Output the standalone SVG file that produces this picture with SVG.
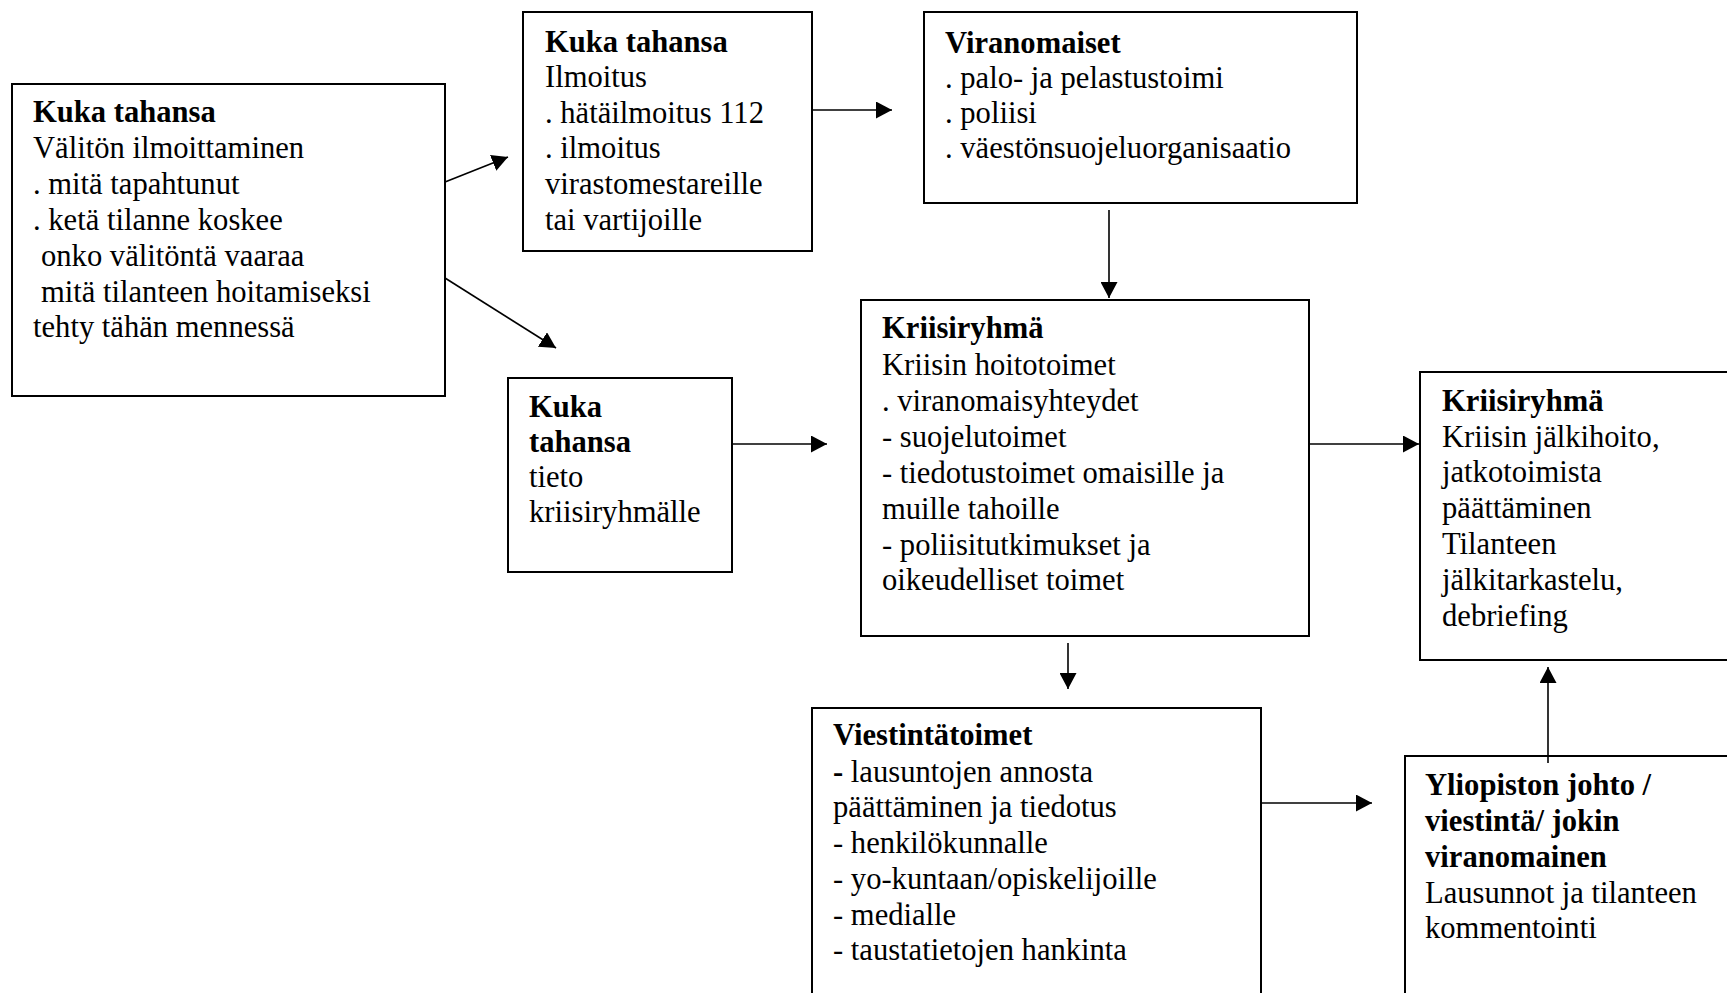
<svg xmlns="http://www.w3.org/2000/svg" width="1727" height="993" viewBox="0 0 1727 993">
  <style>
    .box { fill: #ffffff; stroke: #000000; stroke-width: 2; }
    .t { font-family: "Liberation Serif", "DejaVu Serif", serif; font-size: 30.6px; fill: #000000; }
    .b { font-weight: bold; }
    .conn { stroke: #000000; stroke-width: 1.6; fill: none; marker-end: url(#arrow); }
  </style>
  <defs>
    <marker id="arrow" markerUnits="userSpaceOnUse" markerWidth="17" markerHeight="17" refX="16" refY="8.5" orient="auto">
      <path d="M0,0 L16,8.5 L0,17 z" fill="#000000"/>
    </marker>
  </defs>
  <rect x="0" y="0" width="1727" height="993" fill="#ffffff"/>

  <g id="node-kuka1">
    <rect class="box" x="12" y="84" width="433" height="312"/>
    <text class="t b" x="33" y="122">Kuka tahansa</text>
    <text class="t" x="33" y="158">Välitön ilmoittaminen</text>
    <text class="t" x="33" y="194">. mitä tapahtunut</text>
    <text class="t" x="33" y="230">. ketä tilanne koskee</text>
    <text class="t" x="41" y="266">onko välitöntä vaaraa</text>
    <text class="t" x="41" y="302">mitä tilanteen hoitamiseksi</text>
    <text class="t" x="33" y="337">tehty tähän mennessä</text>
  </g>

  <g id="node-kuka2">
    <rect class="box" x="523" y="12" width="289" height="239"/>
    <text class="t b" x="545" y="52">Kuka tahansa</text>
    <text class="t" x="545" y="87">Ilmoitus</text>
    <text class="t" x="545" y="123">. hätäilmoitus 112</text>
    <text class="t" x="545" y="158">. ilmoitus</text>
    <text class="t" x="545" y="194">virastomestareille</text>
    <text class="t" x="545" y="230">tai vartijoille</text>
  </g>

  <g id="node-viranomaiset">
    <rect class="box" x="924" y="12" width="433" height="191"/>
    <text class="t b" x="945" y="53">Viranomaiset</text>
    <text class="t" x="945" y="88">. palo- ja pelastustoimi</text>
    <text class="t" x="945" y="123">. poliisi</text>
    <text class="t" x="945" y="158">. väestönsuojeluorganisaatio</text>
  </g>

  <g id="node-kuka3">
    <rect class="box" x="508" y="378" width="224" height="194"/>
    <text class="t b" x="529" y="417">Kuka</text>
    <text class="t b" x="529" y="452">tahansa</text>
    <text class="t" x="529" y="487">tieto</text>
    <text class="t" x="529" y="522">kriisiryhmälle</text>
  </g>

  <g id="node-kriisiryhma1">
    <rect class="box" x="861" y="300" width="448" height="336"/>
    <text class="t b" x="882" y="338">Kriisiryhmä</text>
    <text class="t" x="882" y="375">Kriisin hoitotoimet</text>
    <text class="t" x="882" y="411">. viranomaisyhteydet</text>
    <text class="t" x="882" y="447">- suojelutoimet</text>
    <text class="t" x="882" y="483">- tiedotustoimet omaisille ja</text>
    <text class="t" x="882" y="519">muille tahoille</text>
    <text class="t" x="882" y="555">- poliisitutkimukset ja</text>
    <text class="t" x="882" y="590">oikeudelliset toimet</text>
  </g>

  <g id="node-kriisiryhma2">
    <rect class="box" x="1420" y="372" width="330" height="288"/>
    <text class="t b" x="1442" y="411">Kriisiryhmä</text>
    <text class="t" x="1442" y="447">Kriisin jälkihoito,</text>
    <text class="t" x="1442" y="482">jatkotoimista</text>
    <text class="t" x="1442" y="518">päättäminen</text>
    <text class="t" x="1442" y="554">Tilanteen</text>
    <text class="t" x="1442" y="590">jälkitarkastelu,</text>
    <text class="t" x="1442" y="626">debriefing</text>
  </g>

  <g id="node-viestinta">
    <rect class="box" x="812" y="708" width="449" height="300"/>
    <text class="t b" x="833" y="745">Viestintätoimet</text>
    <text class="t" x="833" y="782"><tspan class="b">-</tspan> lausuntojen annosta</text>
    <text class="t" x="833" y="817">päättäminen ja tiedotus</text>
    <text class="t" x="833" y="853">- henkilökunnalle</text>
    <text class="t" x="833" y="889">- yo-kuntaan/opiskelijoille</text>
    <text class="t" x="833" y="925">- medialle</text>
    <text class="t" x="833" y="960">- taustatietojen hankinta</text>
  </g>

  <g id="node-yliopisto">
    <rect class="box" x="1405" y="756" width="340" height="260"/>
    <text class="t b" x="1425" y="795">Yliopiston johto /</text>
    <text class="t b" x="1425" y="831">viestintä/ jokin</text>
    <text class="t b" x="1425" y="867">viranomainen</text>
    <text class="t" x="1425" y="903">Lausunnot ja tilanteen</text>
    <text class="t" x="1425" y="938">kommentointi</text>
  </g>

  <g id="connectors">
    <line class="conn" x1="445" y1="182" x2="508" y2="157"/>
    <line class="conn" x1="445" y1="278" x2="556" y2="348"/>
    <line class="conn" x1="812" y1="110" x2="892" y2="110"/>
    <line class="conn" x1="1109" y1="210" x2="1109" y2="298"/>
    <line class="conn" x1="732" y1="444" x2="827" y2="444"/>
    <line class="conn" x1="1309" y1="444" x2="1419" y2="444"/>
    <line class="conn" x1="1068" y1="643" x2="1068" y2="689"/>
    <line class="conn" x1="1261" y1="803" x2="1372" y2="803"/>
    <line class="conn" x1="1548" y1="763" x2="1548" y2="667"/>
  </g>
</svg>
